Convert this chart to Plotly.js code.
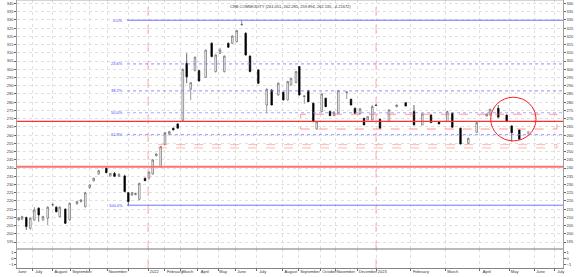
<!DOCTYPE html>
<html><head><meta charset="utf-8">
<script src="https://cdn.plot.ly/plotly-3.0.1.min.js"></script>
<style>html,body{margin:0;padding:0;background:#fff;}#chart{width:580px;height:277px;}</style>
</head><body><div id="chart"></div>
<script>
// ---- data (weekly candles, x = bar position on the chart's time scale) ----
const pos = [1.7,5.0,9.3,13.3,17.3,21.7,26.0,30.7,35.7,39.3,42.7,48.3,52.7,60.0,64.0,68.3,72.7,76.7,81.7,89.3,
  93.3,97.5,102.0,107.7,111.3,115.0,118.5,122.3,128.0,132.0,135.7,139.3,143.7,148.0,152.3,156.3,160.7,165.8,169.7,173.7,
  178.0,182.0,188.7,194.7,198.7,203.0,207.3,211.3,215.3,219.7,224.7,228.7,233.0,241.3,249.7,254.7,261.3,266.3,270.7,274.0,
  279.0,282.3,287.3,291.3,296.3,299.7,304.7,308.7,313.0,317.0,321.3,329.7,334.0,338.0,343.0,347.0,350.7,355.3,359.0,363.0,
  372.0,379.7,388.7,397.0,405.3,414.0,422.0,430.3,435.3,443.5,451.3,459.7,469.7,473.0,481.3,489.7,494.7,502.3];
const open  = [208.5,208.9,209.9,203.4,208.4,215.6,208.5,209.5,217.6,216.2,210.5,215.0,208.5,218.2,219.6,216.5,228.1,232.2,236.4,239.8,
  235.2,236.8,235.0,235.2,225.0,223.6,223.8,221.0,233.8,233.8,236.4,247.5,240.8,254.4,260.7,264.2,266.8,269.0,303.6,287.9,
  299.2,299.2,295.1,315.8,298.6,309.7,298.6,315.8,315.8,316.8,327.0,321.9,308.0,299.6,278.3,287.4,284.4,286.0,281.4,290.5,
  291.9,301.7,283.4,287.0,279.4,263.7,274.3,282.4,274.3,272.0,273.3,286.0,281.8,276.3,273.0,270.2,269.2,269.2,278.3,269.6,
  268.2,277.3,279.7,274.3,266.2,272.2,268.2,268.2,273.3,264.2,255.0,261.7,271.6,272.2,276.3,272.2,265.6,263.1];
const high  = [210.0,211.0,210.5,210.0,216.2,216.2,211.0,216.8,219.0,216.8,216.8,215.5,219.0,220.0,221.0,225.5,230.0,234.2,238.8,240.3,
  237.0,237.5,237.0,236.0,225.5,225.5,225.0,231.0,234.2,238.0,245.5,249.0,253.4,261.8,262.5,264.6,267.2,300.5,309.7,291.9,
  307.8,299.6,311.7,316.5,309.2,313.0,308.5,316.3,320.7,324.0,329.8,322.5,308.5,300.0,288.4,288.0,292.0,286.5,293.0,295.0,
  299.0,302.0,284.0,287.5,279.8,268.6,285.5,282.8,274.8,274.5,287.5,286.5,282.2,276.8,276.5,270.6,271.5,278.3,278.6,270.0,
  275.8,278.6,280.0,278.3,273.2,272.5,268.5,274.8,273.6,264.5,258.4,268.0,273.0,276.0,278.3,272.5,266.0,263.4];
const low   = [208.0,208.5,202.4,202.5,208.0,207.4,208.0,205.4,216.8,213.0,210.0,206.0,208.0,217.8,219.0,216.0,227.5,231.8,236.0,236.8,
  234.8,234.5,234.5,225.2,217.4,223.0,223.5,220.5,232.0,233.0,236.0,247.0,240.3,254.0,260.3,262.8,264.0,268.5,291.5,281.4,
  298.8,292.5,294.8,307.3,298.0,309.3,298.0,313.0,315.3,316.3,326.5,308.3,298.2,291.0,273.4,278.0,284.0,281.0,281.0,290.0,
  291.5,284.0,279.0,280.0,267.8,263.3,274.0,277.0,271.5,271.5,273.0,282.0,278.0,273.0,272.5,266.0,269.0,269.0,277.8,264.0,
  268.0,277.0,277.5,266.0,266.0,267.3,266.5,268.0,264.5,254.3,254.8,261.4,271.3,272.0,270.6,268.0,256.0,257.2];
const close = [209.5,210.5,204.4,209.5,214.5,211.5,210.5,216.2,217.8,213.5,216.2,206.4,218.6,219.6,220.6,225.0,229.7,233.8,238.4,237.2,
  236.8,235.0,236.0,225.7,219.6,225.0,224.6,230.7,232.3,237.5,244.9,248.5,253.0,261.5,262.1,263.2,264.2,300.0,295.5,291.9,
  307.3,292.9,311.7,307.7,308.7,311.7,308.0,313.4,320.2,323.5,327.3,308.7,298.6,291.5,287.9,278.3,291.5,281.4,292.5,294.5,
  298.6,284.4,283.8,280.3,268.2,268.2,285.0,277.3,271.8,274.0,287.0,286.2,278.3,273.3,276.0,266.2,271.2,277.3,278.0,264.2,
  275.3,278.3,277.7,266.2,272.9,267.6,266.8,274.3,264.8,254.6,258.1,267.6,272.9,275.7,270.9,268.2,261.5,257.5];
// latest (still open) bar
const lastPos = [511.3];
const lastOHLC = {o:[261.051], h:[262.285], l:[259.894], c:[262.135]};
const lastChange = -4.21672;

// month labels on the time scale
const monthNames = ["June","July","August","September","November","2022","February","March","April","May","June","July",
  "August","September","October","November","December","2023","February","March","April","May","June","July"];
const monthPos = [-1,15.5,35.5,53.5,90.5,131,147.5,163.5,180.5,201,218.5,239.5,
  265.5,281.5,303,318.5,340.5,359,393.5,428.5,462.5,492.5,517.5,537.5];
const gridPos = [15.5,35.5,53.5,72,90.5,111,131,147.5,163.5,180.5,201,218.5,239.5,265.5,281.5,303,318.5,340.5,359,393.5,428.5,462.5,492.5,517.5,537.5];

// Fibonacci retracement between swing low and high
const fibHigh = 329.8, fibLow = 217.4;
const fibRatios = [0, 0.236, 0.382, 0.5, 0.618, 1.0];
const fibLabels = ["0.0%","23.6%","38.2%","50.0%","61.8%","100.0%"];
// horizontal levels and zones
const levels = [268.4, 240.8];
const zoneUpper = [263.7, 272.7];
const zoneLower = [252.2, 254.2];
const yearLines = [131, 359];

const F = "Liberation Sans, Arial, sans-serif";
const traces = [
  {type:'candlestick', x:pos, open:open, high:high, low:low, close:close, xaxis:'x', yaxis:'y',
   increasing:{line:{color:'#555', width:0.6}, fillcolor:'#ffffff'},
   decreasing:{line:{color:'#000', width:0.6}, fillcolor:'#000000'},
   whiskerwidth:0, hoverinfo:'skip', showlegend:false},
  {type:'candlestick', x:lastPos, open:lastOHLC.o, high:lastOHLC.h, low:lastOHLC.l, close:lastOHLC.c, xaxis:'x', yaxis:'y',
   increasing:{line:{color:'#999', width:0.6}, fillcolor:'#dddddd'},
   decreasing:{line:{color:'#999', width:0.6}, fillcolor:'#dddddd'},
   whiskerwidth:0, hoverinfo:'skip', showlegend:false}
];

const shapes = [];
const annotations = [];
const fibStart = 110, xEnd = 546;
fibRatios.forEach((r,i)=>{
  const v = fibHigh - r*(fibHigh-fibLow);
  const solid = (r===0 || r===1);
  shapes.push({type:'line', xref:'x', yref:'y', x0:fibStart, x1:xEnd, y0:v, y1:v,
    line:{color: solid ? 'rgba(100,100,255,0.9)' : 'rgba(130,130,255,0.7)', width: solid?1:1.2, dash: solid?'solid':'dot'}});
  annotations.push({xref:'x', yref:'y', x:fibStart-2, y:v, text:fibLabels[i], showarrow:false, xanchor:'right', yanchor:'middle',
    font:{family:F, size:4, color:'#4444ff'}});
});
shapes.push({type:'line', xref:'x', yref:'y', x0:0, x1:xEnd, y0:levels[0], y1:levels[0], line:{color:'#ff3030', width:1.2}});
shapes.push({type:'line', xref:'x', yref:'y', x0:0, x1:xEnd, y0:levels[1], y1:levels[1], line:{color:'#ff7070', width:2}});
shapes.push({type:'rect', xref:'x', yref:'y', x0:283.7, x1:540, y0:zoneUpper[0], y1:zoneUpper[1],
  line:{color:'rgba(255,90,90,0.8)', width:0.8, dash:'dash'}});
shapes.push({type:'rect', xref:'x', yref:'y', x0:141, x1:540, y0:zoneLower[0], y1:zoneLower[1],
  line:{color:'rgba(255,120,120,0.7)', width:0.8, dash:'dash'}});
yearLines.forEach(x=>shapes.push({type:'line', xref:'x', yref:'paper', x0:x, x1:x, y0:0, y1:1,
  line:{color:'rgba(255,120,120,0.7)', width:0.8, dash:'dash'}}));
shapes.push({type:'circle', xref:'x', yref:'y', x0:473.7, x1:519, y0:256.5, y1:283, line:{color:'#ff2020', width:1}});

annotations.push({xref:'paper', yref:'paper', x:0.5, y:1, yanchor:'top', yshift:-2, showarrow:false,
  text:`CRB COMMODITY (${lastOHLC.o[0]}, ${lastOHLC.h[0]}, ${lastOHLC.l[0]}, ${lastOHLC.c[0]}, ${lastChange})`,
  font:{family:F, size:4, color:'#333'}});

// month labels placed just right of month boundary
const labelCenters = monthNames.map((m,i)=>monthPos[i] + 2 + m.length*1.05);

const yTicks = []; for (let v=195; v<=340; v+=5) yTicks.push(v);
const yRange = [190.8, 342.1];
const tickFont = {family:F, size:4, color:'#333'};
const gridCommon = {gridcolor:'#cccccc', griddash:'dot', gridwidth:0.6};
const layout = {
  width:580, height:277, margin:{l:17, r:17, t:0, b:9}, paper_bgcolor:'#fff', plot_bgcolor:'#fff',
  showlegend:false, font:{family:F, size:4, color:'#333'},
  xaxis:{domain:[0,1], range:[0,546], anchor:'y3', tickvals:gridPos, showticklabels:false, ticks:'outside', ticklen:2,
    tickcolor:'#666', showgrid:true, ...gridCommon, zeroline:false, showline:true, linecolor:'#666', linewidth:0.8, mirror:false,
    rangeslider:{visible:false}},
  xaxis2:{overlaying:'x', matches:'x', range:[0,546], anchor:'y3', side:'bottom', tickvals:labelCenters, ticktext:monthNames,
    ticks:'', showgrid:false, zeroline:false, tickfont:tickFont, tickangle:0, ticklabelstandoff:0, automargin:false},
  yaxis:{domain:[19/268,1], range:yRange, tickvals:yTicks, side:'left', ticks:'outside', ticklen:2, tickcolor:'#666',
    tickfont:tickFont, showgrid:true, ...gridCommon, zeroline:false, showline:true, linecolor:'#888', linewidth:0.8, anchor:'x'},
  yaxis2:{overlaying:'y', range:yRange, tickvals:yTicks, side:'right', ticks:'outside', ticklen:2, tickcolor:'#666',
    tickfont:tickFont, showgrid:false, zeroline:false, showline:true, linecolor:'#888', linewidth:0.8, anchor:'x'},
  yaxis3:{domain:[0,19/268], range:[-1.6,1.6], tickvals:[-1,0,1], side:'left', ticks:'outside', ticklen:2, tickcolor:'#666',
    tickfont:tickFont, showgrid:false, zeroline:false, showline:true, linecolor:'#888', linewidth:0.8, anchor:'x'},
  yaxis4:{overlaying:'y3', range:[-1.6,1.6], tickvals:[-1,0,1], side:'right', ticks:'outside', ticklen:2, tickcolor:'#666',
    tickfont:tickFont, showgrid:false, zeroline:false, showline:true, linecolor:'#888', linewidth:0.8, anchor:'x'},
  shapes:shapes.concat([
    {type:'line', xref:'paper', yref:'paper', x0:0, x1:1, y0:19/268, y1:19/268, line:{color:'#777', width:1.2}},
    {type:'line', xref:'paper', yref:'paper', x0:0, x1:1, y0:1, y1:1, line:{color:'#999', width:0.8}}
  ]),
  annotations:annotations
};
// dummy traces so overlay axes render
traces.push({type:'scatter', x:[0], y:[200], xaxis:'x2', yaxis:'y2', mode:'markers', marker:{opacity:0}, hoverinfo:'skip'});
traces.push({type:'scatter', x:[0], y:[0], xaxis:'x', yaxis:'y3', mode:'markers', marker:{opacity:0}, hoverinfo:'skip'});
traces.push({type:'scatter', x:[0], y:[0], xaxis:'x', yaxis:'y4', mode:'markers', marker:{opacity:0}, hoverinfo:'skip'});
Plotly.newPlot('chart', traces, layout, {staticPlot:true, displayModeBar:false});
</script></body></html>
